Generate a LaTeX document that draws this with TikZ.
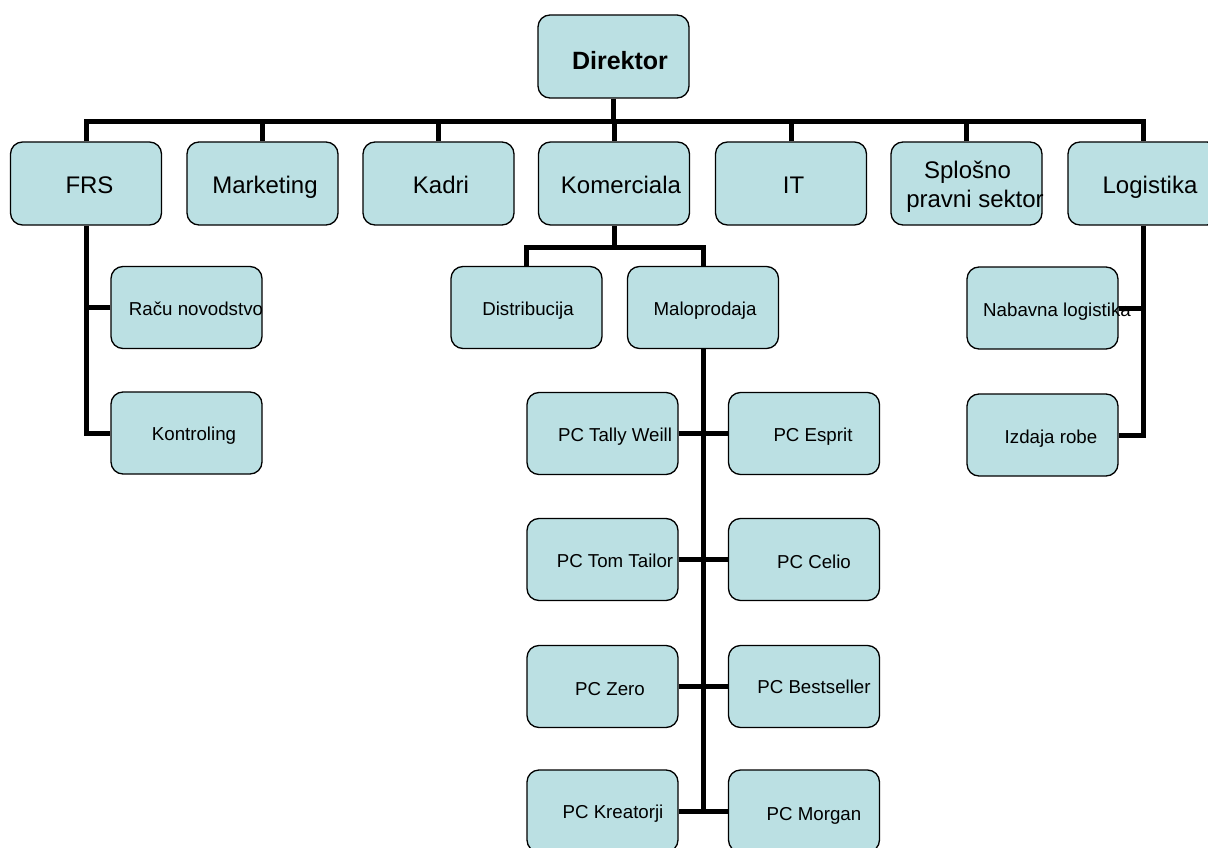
\documentclass[tikz,border=0pt]{standalone}
\usepackage{fontspec}
\setmainfont{Liberation Sans}
\usetikzlibrary{backgrounds}
\definecolor{boxfill}{RGB}{187,224,227}
\begin{document}
\begin{tikzpicture}[x=1pt,y=-1pt,
  box/.style={draw=black, line width=1.3pt, fill=boxfill, rounded corners=12pt,
    minimum width=151pt, minimum height=82pt, inner sep=0pt},
  tall/.style={minimum height=83pt},
  lbl/.style={inner sep=0pt, text height=13.4pt, text depth=0pt,
    font=\fontsize{18.7}{22}\selectfont},
  big/.style={inner sep=0pt, text height=17.2pt, text depth=0pt,
    font=\fontsize{24}{28}\selectfont},
  boss/.style={inner sep=0pt, text height=18pt, text depth=0pt,
    font=\fontsize{25}{30}\selectfont\bfseries},
  conn/.style={draw=black, line width=5pt}]
\useasboundingbox (0,0) rectangle (1208,848);
\clip (0,0) rectangle (1208,848);

% Director
\node[box, tall, label={[boss,xshift=6.5pt,yshift=-4pt]center:Direktor}] (dir) at (613.5,56.5) {};

% top row
\node[box, tall, label={[big,xshift=3.5pt,yshift=-1.8pt]center:FRS}] (frs) at (86,183.5) {};
\node[box, tall, label={[big,xshift=2.5pt,yshift=-1.8pt]center:Marketing}] (mkt) at (262.5,183.5) {};
\node[box, tall, label={[big,xshift=2.5pt,yshift=-1.8pt]center:Kadri}] (kad) at (438.5,183.5) {};
\node[box, tall, label={[big,xshift=7pt,yshift=-1.8pt]center:Komerciala}] (kom) at (614,183.5) {};
\node[box, tall, label={[big,xshift=2.5pt,yshift=-1.8pt]center:IT}] (it) at (791,183.5) {};
\node[box, tall, label={[big,xshift=1pt,yshift=14pt]center:Splošno},
  label={[big,xshift=8.5pt,yshift=-15.5pt]center:pravni sektor}] (spl) at (966.5,183.5) {};
\node[box, tall, label={[big,xshift=6.5pt,yshift=-1.8pt]center:Logistika}] (log) at (1143.5,183.5) {};

% FRS children
\node[box, label={[lbl,xshift=9.5pt,yshift=-0.8pt]center:Raču novodstvo}] (rac) at (186.5,307.5) {};
\node[box, label={[lbl,xshift=7.5pt,yshift=-0.7pt]center:Kontroling}] (kon) at (186.5,433) {};

% Komerciala children
\node[box, label={[lbl,xshift=1.5pt,yshift=-0.8pt]center:Distribucija}] (dis) at (526.5,307.5) {};
\node[box, label={[lbl,xshift=2pt,yshift=-0.8pt]center:Maloprodaja}] (mal) at (703,307.5) {};

% Maloprodaja children
\node[box, label={[lbl,xshift=12.5pt,yshift=-1.2pt]center:PC Tally Weill}] (tal) at (602.5,433.5) {};
\node[box, label={[lbl,xshift=9pt,yshift=-1.5pt]center:PC Esprit}] (esp) at (804,433.5) {};
\node[box, label={[lbl,xshift=12.5pt,yshift=-1pt]center:PC Tom Tailor}] (tom) at (602.5,559.5) {};
\node[box, label={[lbl,xshift=10pt,yshift=-2.5pt]center:PC Celio}] (cel) at (804,559.5) {};
\node[box, label={[lbl,xshift=7.5pt,yshift=-2.5pt]center:PC Zero}] (zer) at (602.5,686.5) {};
\node[box, label={[lbl,xshift=10pt,yshift=0pt]center:PC Bestseller}] (bes) at (804,686.5) {};
\node[box, label={[lbl,xshift=10.5pt,yshift=-1pt]center:PC Kreatorji}] (kre) at (602.5,811) {};
\node[box, label={[lbl,xshift=10pt,yshift=-3pt]center:PC Morgan}] (mor) at (804,811) {};

% Logistika children
\node[box, label={[lbl,xshift=14.5pt,yshift=-1.5pt]center:Nabavna logistika}] (nab) at (1042.5,308) {};
\node[box, label={[lbl,xshift=8.5pt,yshift=-1.7pt]center:Izdaja robe}] (izd) at (1042.5,435) {};

\coordinate (bus) at (613.5,121.5);
\coordinate (kbus) at (614,247);

\begin{pgfonlayer}{background}
  % Director to top row
  \draw[conn] (dir.south) -- (bus);
  \draw[conn] (frs.north) |- (bus) -| (log.north);
  \draw[conn] (mkt.north) -- (mkt.north |- bus);
  \draw[conn] (kad.north) -- (kad.north |- bus);
  \draw[conn] (kom.north) -- (kom.north |- bus);
  \draw[conn] (it.north) -- (it.north |- bus);
  \draw[conn] (spl.north) -- (spl.north |- bus);
  % FRS
  \draw[conn] (frs.south) |- (kon.west);
  \draw[conn] (rac.west) -- (rac.west -| frs.south);
  % Komerciala
  \draw[conn] (kom.south) -- (kbus);
  \draw[conn] (dis.north) |- (kbus) -| (mal.north);
  % Maloprodaja
  \draw[conn] (mal.south) -- (mal.south |- kre.east);
  \draw[conn] (tal.east) -- (esp.west);
  \draw[conn] (tom.east) -- (cel.west);
  \draw[conn] (zer.east) -- (bes.west);
  \draw[conn] (kre.east) -- (mor.west);
  % Logistika
  \draw[conn] (log.south) |- (izd.east);
  \draw[conn] (nab.east) -- (nab.east -| log.south);
\end{pgfonlayer}
\end{tikzpicture}
\end{document}
